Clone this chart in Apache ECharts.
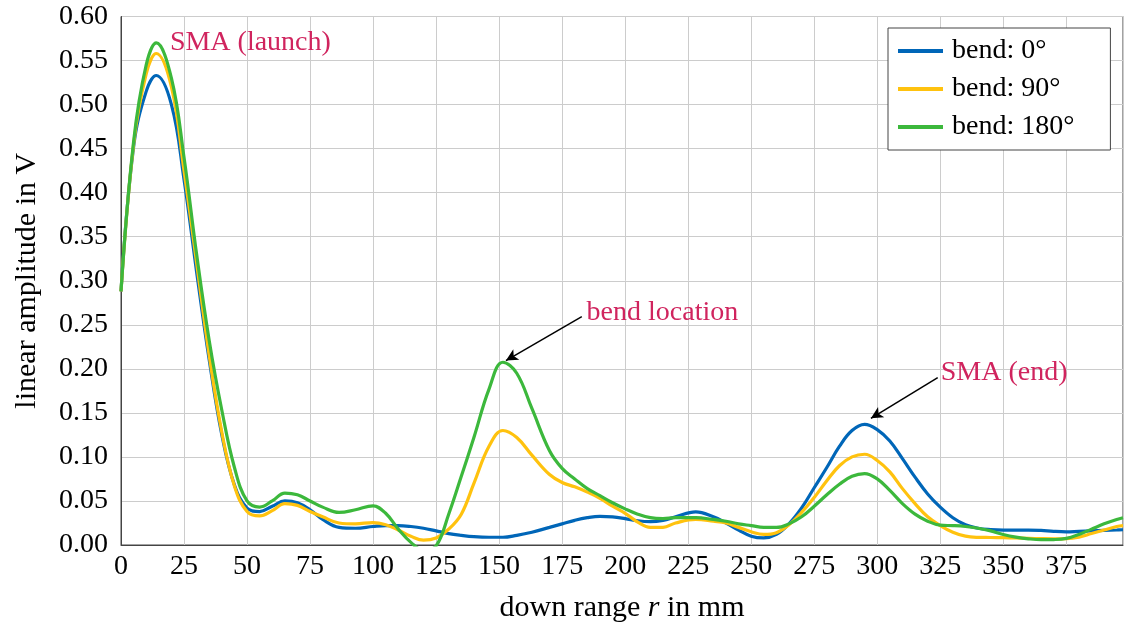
<!DOCTYPE html>
<html>
<head>
<meta charset="utf-8">
<script src="https://cdn.jsdelivr.net/npm/echarts@6/dist/echarts.min.js"></script>
<style>html,body{margin:0;padding:0;background:#fff}#c{width:1126px;height:628px}</style>
</head>
<body>
<div id="c"></div>
<script>
// ---- data ----
const seriesNames = ['bend: 0°', 'bend: 90°', 'bend: 180°'];
const xTicks = [0, 25, 50, 75, 100, 125, 150, 175, 200, 225, 250, 275, 300, 325, 350, 375];

// down range r in mm (sample positions)
const rValues = [0, 5, 10, 14, 20, 25, 30, 35, 40, 45, 50, 55, 60, 65, 70, 75, 80, 86.5, 93, 100,
  105, 110, 115, 120, 125, 130, 135, 140, 146, 151.5, 157, 163, 170, 175, 180, 185, 190, 195,
  200, 205, 210, 215, 220, 228, 235, 240, 245, 250, 255, 260, 265, 270, 275, 280, 285, 290, 295,
  300, 305, 310, 315, 320, 325, 330, 335, 340, 345, 350, 355, 360, 365, 370, 375, 380, 385, 390, 395, 397.5];

const bend0 = [0.288, 0.452, 0.515, 0.533, 0.500, 0.415, 0.310, 0.210, 0.125, 0.068, 0.042, 0.038, 0.044, 0.050, 0.048, 0.040, 0.029, 0.020, 0.019, 0.021,
  0.022, 0.022, 0.021, 0.019, 0.016, 0.013, 0.011, 0.0095, 0.0088, 0.0088, 0.011, 0.0145, 0.020, 0.024, 0.028, 0.031, 0.0325, 0.032,
  0.030, 0.0275, 0.0265, 0.028, 0.032, 0.0377, 0.032, 0.025, 0.017, 0.010, 0.008, 0.012, 0.024, 0.042, 0.065, 0.088, 0.112, 0.130, 0.137,
  0.131, 0.118, 0.098, 0.077, 0.058, 0.043, 0.031, 0.023, 0.019, 0.0175, 0.017, 0.017, 0.017, 0.0165, 0.0155, 0.015, 0.0155, 0.016, 0.0165, 0.017, 0.0173];

const bend90 = [0.288, 0.455, 0.535, 0.558, 0.520, 0.425, 0.320, 0.215, 0.128, 0.067, 0.038, 0.033, 0.039, 0.047, 0.045, 0.038, 0.032, 0.025, 0.024, 0.0255,
  0.023, 0.017, 0.010, 0.0055, 0.008, 0.018, 0.035, 0.070, 0.112, 0.130, 0.122, 0.102, 0.080, 0.071, 0.066, 0.060, 0.053, 0.044,
  0.036, 0.026, 0.020, 0.020, 0.025, 0.029, 0.027, 0.025, 0.020, 0.015, 0.012, 0.014, 0.023, 0.037, 0.054, 0.073, 0.090, 0.100, 0.103,
  0.096, 0.083, 0.064, 0.047, 0.032, 0.022, 0.0145, 0.010, 0.0087, 0.0085, 0.0083, 0.008, 0.0076, 0.0072, 0.007, 0.0072, 0.009, 0.013, 0.017, 0.021, 0.022];

const bend180 = [0.288, 0.458, 0.545, 0.570, 0.530, 0.440, 0.330, 0.232, 0.153, 0.088, 0.050, 0.043, 0.050, 0.059, 0.057, 0.050, 0.043, 0.037, 0.040, 0.0445,
  0.036, 0.018, 0.003, -0.006, -0.001, 0.035, 0.078, 0.122, 0.177, 0.2075, 0.195, 0.155, 0.107, 0.087, 0.075, 0.064, 0.056, 0.048,
  0.041, 0.035, 0.031, 0.030, 0.031, 0.031, 0.029, 0.027, 0.024, 0.022, 0.020, 0.020, 0.024, 0.032, 0.044, 0.057, 0.069, 0.078, 0.081,
  0.075, 0.062, 0.047, 0.035, 0.027, 0.0225, 0.022, 0.021, 0.019, 0.016, 0.012, 0.009, 0.007, 0.006, 0.0062, 0.0075, 0.012, 0.018, 0.024, 0.029, 0.031];

const noteTexts = ['SMA (launch)', 'bend location', 'SMA (end)'];
const notePos = [[19.4, 0.5706], [184.7, 0.2638], [325.2, 0.1959]];
const arrowFrom = [[182.8, 0.2593], [324.0, 0.190]];
const arrowTo = [[152.7, 0.2094], [297.5, 0.1438]];

// ---- chart ----
const FONT = '"Liberation Serif", "DejaVu Serif", serif';
const FS = 28;
const colors = ['#0066B8', '#FFC20E', '#3CB83C'];
const zip = ys => rValues.map((x, i) => [x, ys[i]]);
const dataSets = [zip(bend0), zip(bend90), zip(bend180)];

const chart = echarts.init(document.getElementById('c'), null, {renderer: 'canvas'});
const series = dataSets.map((d, i) => ({
  name: seriesNames[i],
  type: 'line',
  data: d,
  smooth: 0.4,
  showSymbol: false,
  symbol: 'none',
  lineStyle: {color: colors[i], width: 3.2},
  itemStyle: {color: colors[i]},
  z: 3 + i
}));
series[2].markLine = {
  silent: true,
  symbol: ['none', 'arrow'],
  symbolSize: [9, 12],
  label: {show: false},
  lineStyle: {color: '#000', width: 1.5, type: 'solid'},
  data: arrowFrom.map((f, i) => [{coord: f}, {coord: arrowTo[i]}])
};

chart.setOption({
  animation: false,
  color: colors,
  textStyle: {fontFamily: FONT},
  grid: {left: 121, right: 0, top: 16.5, bottom: 82, show: true, borderColor: '#444', borderWidth: 1, containLabel: false},
  legend: {
    data: seriesNames,
    orient: 'vertical',
    left: 888, top: 28,
    backgroundColor: '#fff',
    borderColor: '#444', borderWidth: 1,
    padding: [8, 36, 8, 10],
    itemGap: 8,
    itemWidth: 45, itemHeight: 4,
    icon: 'rect',
    textStyle: {fontFamily: FONT, fontSize: FS, color: '#000', lineHeight: 30, padding: [0, 0, 0, 4]}
  },
  xAxis: {
    type: 'value', min: 0, max: 397.5, interval: 25,
    name: 'down range {i|r} in mm',
    nameLocation: 'middle', nameGap: 48,
    nameTextStyle: {fontFamily: FONT, fontSize: 30, color: '#000', rich: {i: {fontFamily: FONT, fontSize: 30, fontStyle: 'italic', color: '#000'}}},
    axisLine: {show: true, lineStyle: {color: '#444', width: 1}},
    axisTick: {show: false},
    axisLabel: {fontFamily: FONT, fontSize: FS, color: '#000', margin: 8,
      formatter: v => (xTicks.indexOf(v) >= 0 ? String(v) : '')},
    splitLine: {show: true, lineStyle: {color: '#cccccc', width: 1}}
  },
  yAxis: {
    type: 'value', min: 0, max: 0.6, interval: 0.05,
    name: 'linear amplitude in V',
    nameLocation: 'middle', nameGap: 79, nameRotate: 90,
    nameTextStyle: {fontFamily: FONT, fontSize: 30, color: '#000'},
    axisLine: {show: true, lineStyle: {color: '#444', width: 1}},
    axisTick: {show: false},
    axisLabel: {fontFamily: FONT, fontSize: FS, color: '#000', margin: 13, formatter: v => v.toFixed(2)},
    splitLine: {show: true, lineStyle: {color: '#cccccc', width: 1}}
  },
  series: series
});

// annotation texts placed through the axes' own scales
const graphics = noteTexts.map((t, i) => {
  const p = chart.convertToPixel({gridIndex: 0}, notePos[i]);
  return {
    type: 'text', x: p[0], y: p[1], z: 100,
    style: {text: t, fill: '#D0245E', font: FS + 'px ' + FONT, textAlign: 'left', textVerticalAlign: 'middle'}
  };
});
chart.setOption({graphic: graphics});
</script>
</body>
</html>
